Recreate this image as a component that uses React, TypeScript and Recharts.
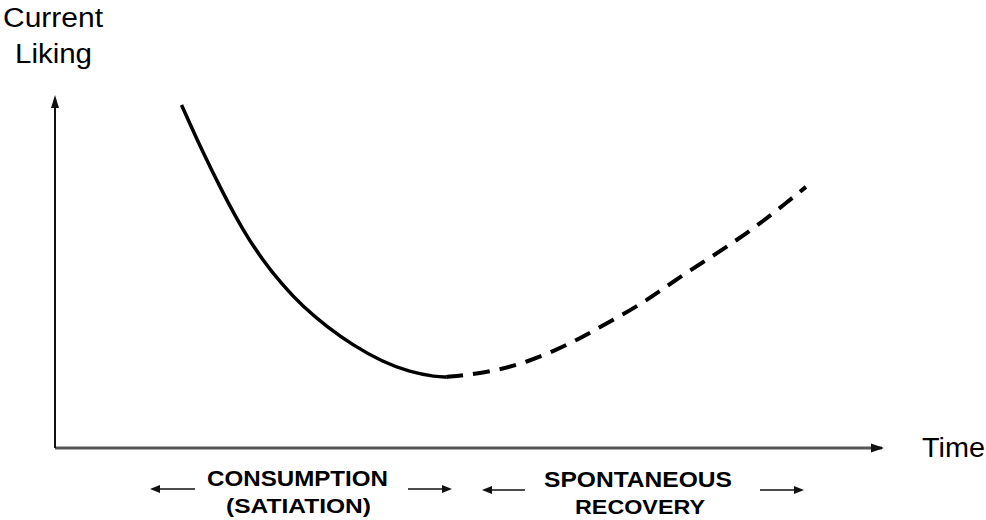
import React from "react"
import { LineChart, Line, XAxis, YAxis } from "recharts"

// satiation phase (solid) and recovery phase (dashed), arbitrary units 0-10
const consumptionTime = [1.53, 1.79, 2.03, 2.27, 2.51, 2.75, 3.0, 3.29, 3.6, 3.96, 4.29, 4.61, 4.73]
const consumptionLiking = [9.8, 8.43, 7.29, 6.23, 5.37, 4.66, 4.03, 3.46, 2.94, 2.46, 2.17, 2.03, 2.03]
const recoveryTime = [4.73, 5.01, 5.37, 5.71, 6.06, 6.38, 6.7, 7.03, 7.33, 7.63, 7.95, 8.25, 8.55, 8.84, 9.08]
const recoveryLiking = [2.03, 2.09, 2.23, 2.46, 2.8, 3.17, 3.6, 4.03, 4.51, 5.0, 5.48, 5.95, 6.46, 7.0, 7.46]

const yLabel = ["Current", "Liking"]
const xLabel = "Time"
const phaseLabels = [
  ["CONSUMPTION", "(SATIATION)"],
  ["SPONTANEOUS", "RECOVERY"],
]

const consumption = consumptionTime.map((t, i) => ({ t, v: consumptionLiking[i] }))
const recovery = recoveryTime.map((t, i) => ({ t, v: recoveryLiking[i] }))

const font = "'Liberation Sans', Arial, sans-serif"

function Arrow({ x1, x2, y }: { x1: number; x2: number; y: number }) {
  const dir = x2 > x1 ? 1 : -1
  return (
    <g>
      <line x1={x1} y1={y} x2={x2 - dir * 6} y2={y} stroke="#111" strokeWidth={1.5} />
      <polygon points={`${x2},${y} ${x2 - dir * 10},${y - 4} ${x2 - dir * 10},${y + 4}`} fill="#111" />
    </g>
  )
}

function Label({ x, y, w, size, bold, children }: { x: number; y: number; w: number; size: number; bold?: boolean; children: string }) {
  return (
    <text
      x={x}
      y={y}
      textLength={w}
      lengthAdjust="spacingAndGlyphs"
      fontFamily={font}
      fontSize={size}
      fontWeight={bold ? "bold" : "normal"}
      fill="#000"
    >
      {children}
    </text>
  )
}

export default function App() {
  return (
    <div style={{ position: "absolute", left: 0, top: 0, width: 986, height: 520, background: "#fff" }}>
      <LineChart width={986} height={520} data={consumption} margin={{ top: 98, right: 104, bottom: 42, left: 25 }}>
        <XAxis
          type="number"
          dataKey="t"
          domain={[0, 10]}
          allowDataOverflow
          height={30}
          tick={false}
          tickLine={false}
          axisLine={{ stroke: "#555", strokeWidth: 3 }}
        />
        <YAxis
          type="number"
          dataKey="v"
          domain={[0, 10]}
          allowDataOverflow
          width={30}
          tick={false}
          tickLine={false}
          axisLine={{ stroke: "#111", strokeWidth: 2 }}
        />
        <Line
          data={consumption}
          dataKey="v"
          type="basis"
          stroke="#000"
          strokeWidth={3.5}
          dot={false}
          isAnimationActive={false}
        />
        <Line
          data={recovery}
          dataKey="v"
          type="basis"
          stroke="#000"
          strokeWidth={4}
          strokeDasharray="17 10"
          dot={false}
          isAnimationActive={false}
        />
      </LineChart>
      <svg width={986} height={520} style={{ position: "absolute", left: 0, top: 0, pointerEvents: "none" }}>
        {/* axis arrow heads */}
        <polygon points="55,95 51,108 59,108" fill="#111" />
        <polygon points="884,448 871,443.5 871,452.5" fill="#111" />
        <Label x={3} y={27} w={100} size={27}>{yLabel[0]}</Label>
        <Label x={15} y={63} w={77} size={27}>{yLabel[1]}</Label>
        <Label x={922} y={457} w={63} size={27}>{xLabel}</Label>
        <Label x={207} y={486} w={181} size={22} bold>{phaseLabels[0][0]}</Label>
        <Label x={226} y={513} w={145} size={21} bold>{phaseLabels[0][1]}</Label>
        <Label x={544} y={487} w={188} size={22} bold>{phaseLabels[1][0]}</Label>
        <Label x={575} y={514} w={130} size={21} bold>{phaseLabels[1][1]}</Label>
        <Arrow x1={195} x2={150} y={489} />
        <Arrow x1={408} x2={452} y={489} />
        <Arrow x1={525} x2={482} y={490} />
        <Arrow x1={760} x2={804} y={490} />
      </svg>
    </div>
  )
}
